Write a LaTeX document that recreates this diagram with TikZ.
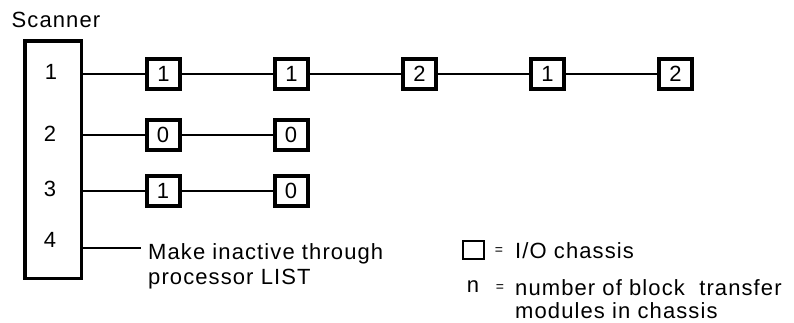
\documentclass[tikz,border=0pt]{standalone}
\usepackage{fontspec}
\setmainfont{Liberation Sans}[LetterSpace=5]
\usetikzlibrary{positioning}

\begin{document}
\begin{tikzpicture}[x=1pt, y=-1pt, inner sep=0pt,
  font=\fontsize{22}{25}\selectfont,
  chassis/.style={draw, line width=4pt, minimum width=33pt, minimum height=30pt},
  link/.style={line width=1.8pt},
  node distance=91pt]
\useasboundingbox (0,0) rectangle (794,322);
\node[draw, line width=3.5pt, minimum width=56.5pt, minimum height=237.5pt] (scan) at (53,159.5) {};
\node (scan_name) at (56,19.5) {Scanner};
\node (port_1) at (51,72) {1};
\node (port_2) at (50,134) {2};
\node (port_3) at (50,189) {3};
\node (port_4) at (50,240) {4};
% chassis rows
\node[chassis] (ch_11) at (163.5,74) {1};
\node[chassis] (ch_12) [right=of ch_11] {1};
\node[chassis] (ch_13) [right=of ch_12] {2};
\node[chassis] (ch_14) [right=of ch_13] {1};
\node[chassis] (ch_15) [right=of ch_14] {2};
\node[chassis] (ch_21) at (163,135) {0};
\node[chassis] (ch_22) [right=of ch_21] {0};
\node[chassis] (ch_31) at (163,191) {1};
\node[chassis] (ch_32) [right=of ch_31] {0};
\draw[link] (scan.east |- ch_11) -- (ch_11);
\path[link] (ch_11) edge (ch_12) (ch_12) edge (ch_13) (ch_13) edge (ch_14) (ch_14) edge (ch_15);
\draw[link] (scan.east |- ch_21) -- (ch_21);
\path[link] (ch_21) edge (ch_22);
\draw[link] (scan.east |- ch_31) -- (ch_31);
\path[link] (ch_31) edge (ch_32);
\coordinate (tap_4) at (141,248);
\draw[link] (scan.east |- tap_4) -- (tap_4);
\node[anchor=west, align=left] (inact) at (148,266.5) {Make inactive through\\processor LIST};
% legend
\node[draw, line width=2pt, minimum width=21pt, minimum height=18pt] (key_box) at (473.5,250) {};
\node[font=\fontsize{14}{14}\selectfont] (key_eq1) at (499,251) {=};
\node[anchor=west] (key_txt1) at (515,251) {I/O chassis};
\node (key_n) at (473,287) {n};
\node[font=\fontsize{14}{14}\selectfont] (key_eq2) at (500,288) {=};
\node[anchor=west, align=left, font=\fontsize{22}{23}\selectfont] (key_txt2) at (515,299) {number of block~ transfer\\modules in chassis};
\end{tikzpicture}
\end{document}
